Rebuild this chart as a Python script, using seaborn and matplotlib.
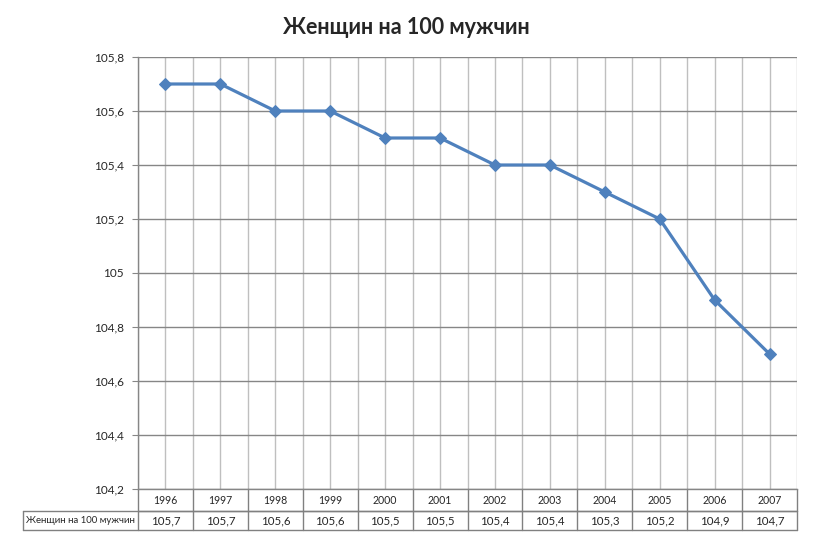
import numpy as np
import pandas as pd
import matplotlib
matplotlib.use("Agg")
import matplotlib.pyplot as plt
import matplotlib.ticker as mticker
import seaborn as sns

title = "Женщин на 100 мужчин"
series_name = "Женщин на 100 мужчин"
years = [1996, 1997, 1998, 1999, 2000, 2001, 2002, 2003, 2004, 2005, 2006, 2007]
values = [105.7, 105.7, 105.6, 105.6, 105.5, 105.5, 105.4, 105.4, 105.3, 105.2, 104.9, 104.7]
y_ticks = [104.2, 104.4, 104.6, 104.8, 105.0, 105.2, 105.4, 105.6, 105.8]

df = pd.DataFrame({"year": years, "value": values})

sns.set_style("white")
plt.rcParams['font.family'] = ['Lato', 'DejaVu Sans']

fig = plt.figure(figsize=(8.13, 5.42), dpi=100)
ax = fig.add_axes([138 / 813, 1 - 489 / 542, 659 / 813, 432 / 542])

line_col = "#4F81BD"
sns.lineplot(data=df, x="year", y="value", ax=ax, color=line_col, linewidth=2.3,
             marker="D", markersize=6.5, markeredgecolor=line_col, zorder=3)

ax.set_xlim(years[0] - 0.5, years[-1] + 0.5)
ax.set_ylim(y_ticks[0], y_ticks[-1])
ax.set_yticks(y_ticks)
ax.yaxis.set_major_formatter(mticker.FuncFormatter(lambda v, p: f"{v:g}".replace(".", ",")))

# vertical grid at category centres and boundaries
ax.set_xticks([y - 0.5 for y in years] + [years[-1] + 0.5])
ax.set_xticks(years, minor=True)
ax.set_xticklabels([])
ax.grid(axis="x", which="both", color="#BFBFBF", linewidth=1)
ax.grid(axis="y", which="major", color="#868686", linewidth=1)
ax.tick_params(axis="x", which="both", length=0)
ax.tick_params(axis="y", length=4, color="#868686", direction="out", labelsize=8.5, pad=6)
ax.yaxis.set_ticks_position("left")
for s in ["top", "right"]:
    ax.spines[s].set_visible(False)
for s in ["left", "bottom"]:
    ax.spines[s].set_color("#868686")
    ax.spines[s].set_linewidth(1)
ax.set_xlabel("")
ax.set_ylabel("")

# data table under the plot
tcol = "#808080"
r1 = -22 / 432
r2 = -41 / 432
lab_left = -115 / 659
kw = dict(transform=ax.transAxes, clip_on=False, color=tcol, linewidth=1)
ax.plot([0, 1], [r1, r1], **kw)
ax.plot([lab_left, 1], [r1, r1], **kw)
ax.plot([lab_left, 1], [r2, r2], **kw)
ax.plot([lab_left, lab_left], [r1, r2], **kw)
for i in range(len(years) + 1):
    ax.plot([i / len(years)] * 2, [0, r2], **kw)
for i, (yr, v) in enumerate(zip(years, values)):
    xc = (i + 0.5) / len(years)
    ax.text(xc, r1 / 2, str(yr), transform=ax.transAxes, ha="center", va="center", fontsize=7.6)
    ax.text(xc, (r1 + r2) / 2, f"{v:g}".replace(".", ","), transform=ax.transAxes,
            ha="center", va="center", fontsize=8.3)
ax.text(lab_left + 0.004, (r1 + r2) / 2, series_name, transform=ax.transAxes,
        ha="left", va="center", fontsize=6.9)

fig.text(0.5, 1 - 27 / 542, title, ha="center", va="center", fontsize=15.5, fontweight="bold")

fig.savefig("out.png", dpi=100, facecolor="white")
